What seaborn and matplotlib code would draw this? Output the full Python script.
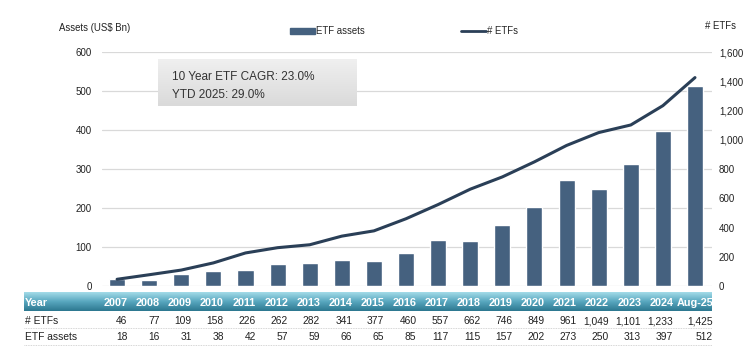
import numpy as np
import seaborn as sns
import matplotlib.pyplot as plt
import matplotlib.transforms as mtransforms
from matplotlib.patches import Patch
from matplotlib.lines import Line2D
from matplotlib.colors import LinearSegmentedColormap

# data
years = ['2007', '2008', '2009', '2010', '2011', '2012', '2013', '2014', '2015', '2016',
         '2017', '2018', '2019', '2020', '2021', '2022', '2023', '2024', 'Aug-25']
n_etfs = [46, 77, 109, 158, 226, 262, 282, 341, 377, 460,
          557, 662, 746, 849, 961, 1049, 1101, 1233, 1425]
etf_assets = [18, 16, 31, 38, 42, 57, 59, 66, 65, 85,
              117, 115, 157, 202, 273, 250, 313, 397, 512]
box_lines = ['10 Year ETF CAGR: 23.0%', 'YTD 2025: 29.0%']

BAR = '#45617f'
LINE = '#2a3f57'
GRID = '#d9d9d9'
TXT = '#222222'

sns.set_style('white')
plt.rcParams['font.family'] = 'Liberation Sans'

W, H = 748, 350
fig = plt.figure(figsize=(W / 100, H / 100), dpi=100)

def fx(px):
    return px / W

def fy(py):
    return 1 - py / H

ax = fig.add_axes([fx(102), fy(286), fx(712) - fx(102), fy(52) - fy(286)])
sns.barplot(x=years, y=etf_assets, color=BAR, width=0.5, saturation=1, ax=ax, zorder=3)
ax.set_ylim(0, 600)
ax.set_xlim(-0.47, 18.53)
ax.set_yticks(range(0, 601, 100))
ax.grid(axis='y', color=GRID, lw=0.9, zorder=0)
ax.set_axisbelow(True)
for s in ax.spines.values():
    s.set_visible(False)
ax.tick_params(axis='y', length=0, labelsize=7, colors=TXT, pad=7.5)
ax.tick_params(axis='x', length=0, labelbottom=False)
ax.set_xlabel('')
ax.set_ylabel('')

ax2 = ax.twinx()
sns.lineplot(x=np.arange(len(years)), y=n_etfs, color=LINE, lw=2.2, ax=ax2, zorder=4)
ax2.set_ylim(0, 1600)
ax2.set_yticks(range(0, 1601, 200))
ax2.set_yticklabels([f'{v:,}' for v in range(0, 1601, 200)])
for s in ax2.spines.values():
    s.set_visible(False)
ax2.tick_params(axis='y', length=0, labelsize=7, colors=TXT, pad=5)
ax2.set_xlim(-0.47, 18.53)

# axis titles
fig.text(fx(59), fy(28), 'Assets (US$ Bn)', fontsize=6.9, color=TXT, va='center')
fig.text(fx(705), fy(26), '# ETFs', fontsize=6.9, color=TXT, va='center')

# legend
handles = [Patch(color=BAR, label='ETF assets'), Line2D([], [], color=LINE, lw=2, label='# ETFs')]
fig.legend(handles=handles, loc='center', bbox_to_anchor=(fx(404), fy(31)), ncol=2,
           frameon=False, fontsize=6.9, handlelength=2.6, handletextpad=0.1, columnspacing=10,
           handleheight=0.6)

# CAGR box
bx = fig.add_axes([fx(158), fy(106), fx(357) - fx(158), fy(59) - fy(106)], zorder=5)
grey = LinearSegmentedColormap.from_list('g', ['#f0f0f0', '#dadada'])
bx.imshow(np.linspace(0, 1, 50).reshape(-1, 1), aspect='auto', cmap=grey, extent=[0, 1, 0, 1])
bx.set_axis_off()
for k, line in enumerate(box_lines):
    bx.text(0.07, 0.56 - 0.4 * k, line, fontsize=8.5, color='#333333', va='baseline')

# table header
hx = fig.add_axes([fx(24), fy(311), fx(712) - fx(24), fy(292) - fy(311)], zorder=1)
teal = LinearSegmentedColormap.from_list('t', ['#a3dbe8', '#58a7bf', '#2d7890'])
hx.imshow(np.linspace(0, 1, 50).reshape(-1, 1), aspect='auto', cmap=teal, extent=[0, 1, 0, 1])
hx.set_axis_off()

tr = mtransforms.blended_transform_factory(ax.transData, fig.transFigure)
tf = mtransforms.offset_copy(tr, fig=fig, x=7.5, units='points')
tf_last = mtransforms.offset_copy(tr, fig=fig, x=13, units='points')
row_y = [fy(306), fy(324), fy(340)]
fig.text(fx(25), row_y[0], 'Year', fontsize=7.8, color='white', weight='bold',
         va='baseline', zorder=6)
fig.text(fx(25), row_y[1], '# ETFs', fontsize=7.4, color=TXT, va='baseline')
fig.text(fx(25), row_y[2], 'ETF assets', fontsize=7.4, color=TXT, va='baseline')
for i, yr in enumerate(years):
    t = tf_last if i == len(years) - 1 else tf
    fig.text(i, row_y[0], yr, transform=t, fontsize=7.8, color='white', weight='bold',
             ha='right', va='baseline', zorder=6)
    fig.text(i, row_y[1], f'{n_etfs[i]:,}', transform=t, fontsize=7.4, color=TXT,
             ha='right', va='baseline')
    fig.text(i, row_y[2], f'{etf_assets[i]:,}', transform=t, fontsize=7.4, color=TXT,
             ha='right', va='baseline')

for yy in [fy(328), fy(345)]:
    fig.add_artist(Line2D([fx(24), fx(712)], [yy, yy], color='#c8c8c8', lw=0.6, ls=(0, (1, 1))))

fig.savefig('out.png', dpi=100)
